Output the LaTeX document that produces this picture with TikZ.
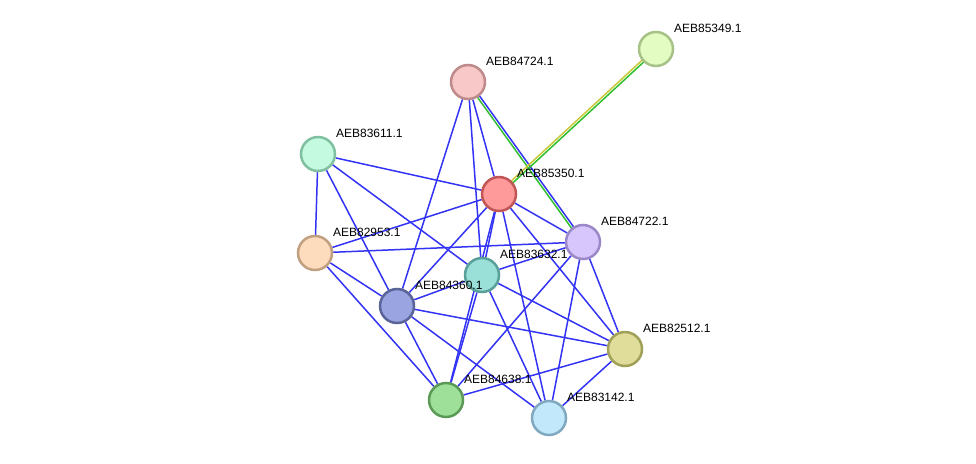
\documentclass[tikz,border=0pt]{standalone}
\usepackage{fontspec}
\setmainfont{Liberation Sans}
\usetikzlibrary{backgrounds}
\definecolor{edgeblue}{HTML}{3333F5}
\definecolor{edgegreen}{HTML}{2FBF2F}
\definecolor{edgeyellow}{HTML}{C8C83A}
\definecolor{limefill}{HTML}{E2FCC2}  \definecolor{limeline}{HTML}{A6C287}
\definecolor{pinkfill}{HTML}{F8C8C8}  \definecolor{pinkline}{HTML}{BF8A8A}
\definecolor{mintfill}{HTML}{C4FADF}  \definecolor{mintline}{HTML}{80C0A0}
\definecolor{redfill}{HTML}{FF9A9A}   \definecolor{redline}{HTML}{C05656}
\definecolor{lilacfill}{HTML}{D7C6FB} \definecolor{lilacline}{HTML}{9A88C8}
\definecolor{peachfill}{HTML}{FDDCBE} \definecolor{peachline}{HTML}{C0A080}
\definecolor{tealfill}{HTML}{9AE0D8}  \definecolor{tealline}{HTML}{5AA09A}
\definecolor{navyfill}{HTML}{9AA4E0}  \definecolor{navyline}{HTML}{5A6498}
\definecolor{olivefill}{HTML}{E0DC9A} \definecolor{oliveline}{HTML}{A0A058}
\definecolor{greenfill}{HTML}{9EE09A} \definecolor{greenline}{HTML}{5A9A56}
\definecolor{skyfill}{HTML}{C2E8FB}   \definecolor{skyline}{HTML}{80A8C0}

\begin{document}
\begin{tikzpicture}[x=1pt,y=-1pt,font=\fontsize{12}{14}\selectfont,
  prot/.style={circle,minimum size=34pt,inner sep=0pt,line width=2.5pt},
  lbl/.style={anchor=west,inner sep=0pt,xshift=5pt,yshift=8pt},
  link/.style={edgeblue,line width=1.5pt}]
\useasboundingbox (0,0) rectangle (976,463);
% proteins
\node[prot,fill=limefill,draw=limeline,label={[lbl]45:AEB85349.1}] (p85349) at (656,49) {};
\node[prot,fill=pinkfill,draw=pinkline,label={[lbl]45:AEB84724.1}] (p84724) at (468,82) {};
\node[prot,fill=mintfill,draw=mintline,label={[lbl]45:AEB83611.1}] (p83611) at (318,154) {};
\node[prot,fill=redfill,draw=redline,label={[lbl]45:AEB85350.1}] (p85350) at (499,194) {};
\node[prot,fill=lilacfill,draw=lilacline,label={[lbl]45:AEB84722.1}] (p84722) at (583,242) {};
\node[prot,fill=peachfill,draw=peachline,label={[lbl]45:AEB82953.1}] (p82953) at (315,253) {};
\node[prot,fill=tealfill,draw=tealline,label={[lbl]45:AEB83632.1}] (p83632) at (482,275) {};
\node[prot,fill=navyfill,draw=navyline,label={[lbl]45:AEB84360.1}] (p84360) at (397,306) {};
\node[prot,fill=olivefill,draw=oliveline,label={[lbl]45:AEB82512.1}] (p82512) at (625,349) {};
\node[prot,fill=greenfill,draw=greenline,label={[lbl]45:AEB84638.1}] (p84638) at (446,400) {};
\node[prot,fill=skyfill,draw=skyline,label={[lbl]45:AEB83142.1}] (p83142) at (549,418) {};
% links
\begin{scope}[on background layer]
\draw[link] (p83611) -- (p85350); \draw[link] (p83611) -- (p82953);
\draw[link] (p83611) -- (p84360); \draw[link] (p83611) -- (p83632);
\draw[link] (p82953) -- (p85350); \draw[link] (p82953) -- (p84722);
\draw[link] (p82953) -- (p84360); \draw[link] (p82953) -- (p84638);
\draw[link] (p84724) -- (p85350); \draw[link] (p84724) -- (p83632);
\draw[link] (p84724) -- (p84360);
\draw[link] (p85350) -- (p84360); \draw[link] (p85350) -- (p83632);
\draw[link] (p85350) -- (p84638); \draw[link] (p85350) -- (p83142);
\draw[link] (p85350) -- (p84722); \draw[link] (p85350) -- (p82512);
\draw[link] (p84722) -- (p84638); \draw[link] (p84722) -- (p83142);
\draw[link] (p84722) -- (p82512); \draw[link] (p84722) -- (p83632);
\draw[link] (p83632) -- (p84360); \draw[link] (p83632) -- (p84638);
\draw[link] (p83632) -- (p83142); \draw[link] (p83632) -- (p82512);
\draw[link] (p84360) -- (p82512); \draw[link] (p84360) -- (p84638);
\draw[link] (p84360) -- (p83142);
\draw[link] (p84638) -- (p82512); \draw[link] (p83142) -- (p82512);
% two-colour links
\draw[link] ([xshift=1pt,yshift=0.7pt]p84724.center) -- ([xshift=1pt,yshift=0.7pt]p84722.center);
\draw[link,edgegreen] ([xshift=-1pt,yshift=-0.7pt]p84724.center) -- ([xshift=-1pt,yshift=-0.7pt]p84722.center);
\draw[link,edgegreen] ([xshift=0.8pt,yshift=-0.9pt]p85349.center) -- ([xshift=0.8pt,yshift=-0.9pt]p85350.center);
\draw[link,edgeyellow] ([xshift=-0.8pt,yshift=0.9pt]p85349.center) -- ([xshift=-0.8pt,yshift=0.9pt]p85350.center);
\end{scope}
\end{tikzpicture}
\end{document}
